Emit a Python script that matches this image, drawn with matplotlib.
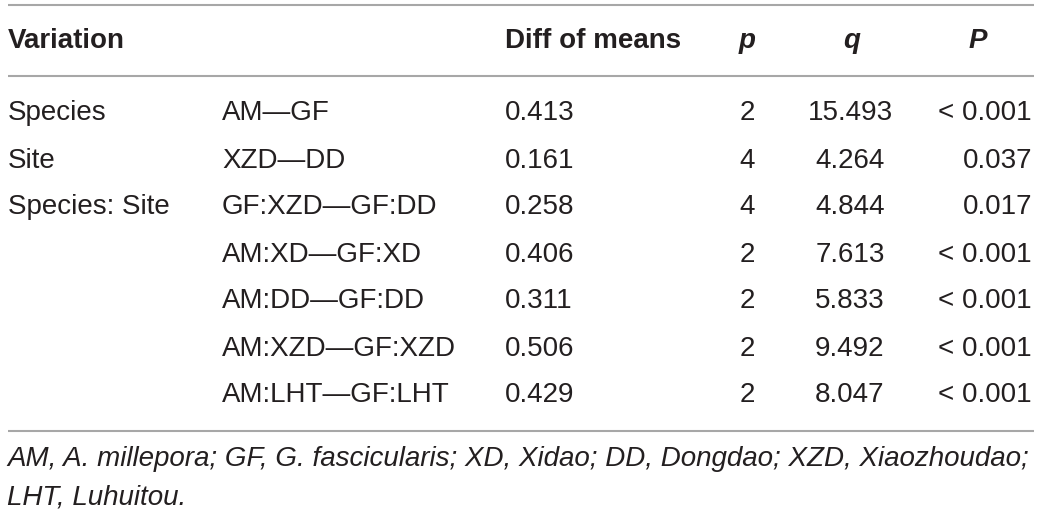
import matplotlib.pyplot as plt

# table contents
variation = ["Species", "Site", "Species: Site", "", "", "", ""]
comparison = ["AM\u2014GF", "XZD\u2014DD", "GF:XZD\u2014GF:DD", "AM:XD\u2014GF:XD",
              "AM:DD\u2014GF:DD", "AM:XZD\u2014GF:XZD", "AM:LHT\u2014GF:LHT"]
diff_means = ["0.413", "0.161", "0.258", "0.406", "0.311", "0.506", "0.429"]
p_vals = ["2", "4", "4", "2", "2", "2", "2"]
q_vals = ["15.493", "4.264", "4.844", "7.613", "5.833", "9.492", "8.047"]
P_vals = ["< 0.001", "0.037", "0.017", "< 0.001", "< 0.001", "< 0.001", "< 0.001"]
footnote = ["AM, A. millepora; GF, G. fascicularis; XD, Xidao; DD, Dongdao; XZD, Xiaozhoudao;",
            "LHT, Luhuitou."]

W, H = 1042, 516
fig = plt.figure(figsize=(W / 100, H / 100), dpi=100)
ax = fig.add_axes([0, 0, 1, 1])
ax.set_xlim(0, W)
ax.set_ylim(H, 0)
ax.axis("off")

txt = "#231f20"
line_col = "#a7a7a7"
fam = ["Liberation Sans", "DejaVu Sans"]
fs = 20

# horizontal rules
for y in (5, 76, 431):
    ax.plot([8, 1034], [y, y], color=line_col, lw=1.5, solid_capstyle="butt")

# header
hy = 41
ax.text(8, hy, "Variation", fontsize=fs, fontweight="bold", family=fam, color=txt, va="center")
ax.text(505, hy, "Diff of means", fontsize=fs, fontweight="bold", family=fam, color=txt, va="center")
ax.text(747, hy, "p", fontsize=fs, fontweight="bold", style="italic", family=fam, color=txt, va="center", ha="center")
ax.text(852, hy, "q", fontsize=fs, fontweight="bold", style="italic", family=fam, color=txt, va="center", ha="center")
ax.text(978, hy, "P", fontsize=fs, fontweight="bold", style="italic", family=fam, color=txt, va="center", ha="center")

# body rows
y0, pitch = 113.5, 47.0
for i in range(len(comparison)):
    y = y0 + i * pitch
    kw = dict(fontsize=fs, family=fam, color=txt, va="center")
    ax.text(8, y, variation[i], **kw)
    ax.text(222, y, comparison[i], **kw)
    ax.text(505, y, diff_means[i], **kw)
    ax.text(747, y, p_vals[i], ha="center", **kw)
    ax.text(850, y, q_vals[i], ha="center", **kw)
    ax.text(1032, y, P_vals[i], ha="right", **kw)

# footnote
for j, line in enumerate(footnote):
    ax.text(7, 459 + j * 39, line, fontsize=fs, style="italic",
            family=["Liberation Sans Narrow", "Liberation Sans", "DejaVu Sans"],
            color=txt, va="center")

fig.savefig("out.png", dpi=100, facecolor="white")
